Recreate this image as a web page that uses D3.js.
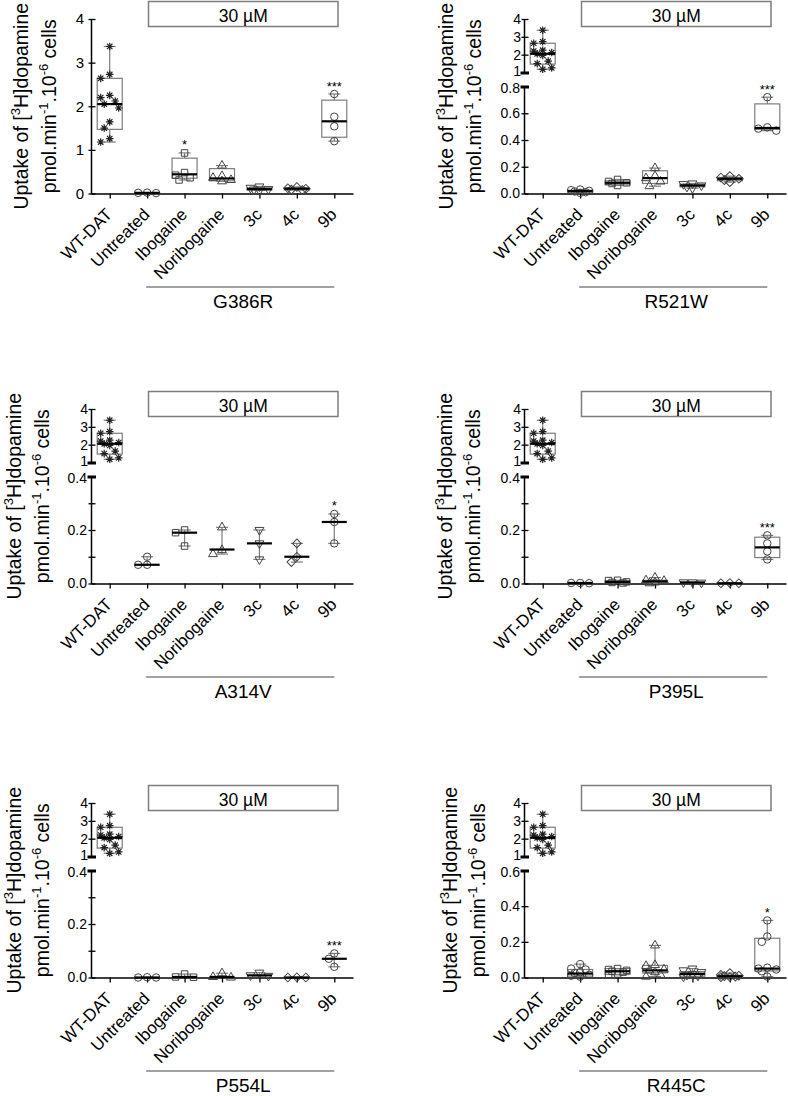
<!DOCTYPE html>
<html>
<head>
<meta charset="utf-8">
<script src="https://cdn.jsdelivr.net/npm/d3@7"></script>
<style>
  body { margin: 0; background: #fff; }
  svg { font-family: "Liberation Sans", Arial, sans-serif; }
</style>
</head>
<body>
<svg id="chart" width="788" height="1096"></svg>
<script>
"use strict";
// ---- data ----
const categories = ["WT-DAT", "Untreated", "Ibogaine", "Noribogaine", "3c", "4c", "9b"];
const mutants = ["G386R", "R521W", "A314V", "P395L", "P554L", "R445C"];
const concLabel = "30 µM";

// WT-DAT reference, same in every panel
const wtValues = [3.37, 2.73, 2.64, 2.25, 2.20, 2.12, 2.05, 1.96, 1.64, 1.50, 1.26, 1.18];
const wtStats = [1.47, 2.05, 2.64]; // q1, median, q3

// one entry per treatment (Untreated .. 9b); stats = [q1, median, q3], q1/q3 null = no box
const g386rValues = [
  [0.02, 0.015, 0.01],
  [0.93, 0.48, 0.42, 0.36, 0.31],
  [0.64, 0.40, 0.36, 0.31, 0.28],
  [0.16, 0.13, 0.10, 0.09, 0.07],
  [0.15, 0.12, 0.11, 0.09, 0.08],
  [2.28, 1.76, 1.54, 1.20]
];
const g386rStats = [[null, 0.015, null], [0.35, 0.44, 0.81], [0.29, 0.345, 0.57], [0.08, 0.10, 0.13], [0.085, 0.11, 0.13], [1.29, 1.655, 2.14]];
const g386rStars = ["", "", "*", "", "", "", "***"];

const r521wValues = [
  [0.03, 0.025, 0.02, 0.015, 0.01, 0.005],
  [0.105, 0.09, 0.08, 0.075, 0.06],
  [0.19, 0.13, 0.115, 0.09, 0.055],
  [0.075, 0.07, 0.06, 0.05, 0.04],
  [0.13, 0.12, 0.11, 0.10, 0.085],
  [0.72, 0.495, 0.485, 0.47]
];
const r521wStats = [[0.01, 0.018, 0.025], [0.065, 0.08, 0.095], [0.075, 0.115, 0.17], [0.05, 0.06, 0.07], [0.095, 0.11, 0.12], [0.48, 0.49, 0.67]];
const r521wStars = ["", "", "", "", "", "", "***"];

const a314vValues = [
  [0.10, 0.07, 0.07],
  [0.20, 0.19, 0.14],
  [0.21, 0.125, 0.11],
  [0.20, 0.15, 0.09],
  [0.15, 0.10, 0.08],
  [0.26, 0.23, 0.15]
];
const a314vStats = [[null, 0.07, null], [null, 0.19, null], [null, 0.127, null], [null, 0.15, null], [null, 0.10, null], [null, 0.23, null]];
const a314vStars = ["", "", "", "", "", "", "*"];

const p395lValues = [
  [0.002, 0.002, 0.001],
  [0.012, 0.011, 0.006, 0.004, 0.002],
  [0.022, 0.012, 0.01, 0.004, 0.001],
  [0.004, 0.004, 0.003],
  [0.002, 0.001, 0.001],
  [0.18, 0.15, 0.12, 0.09]
];
const p395lStats = [[null, 0.002, null], [0.003, 0.006, 0.011], [0.003, 0.008, 0.012], [null, 0.004, null], [null, 0.001, null], [0.097, 0.135, 0.173]];
const p395lStars = ["", "", "", "", "", "", "***"];

const p554lValues = [
  [0.001, 0.0, 0.0],
  [0.013, 0.002, 0.001],
  [0.016, 0.002, 0.0],
  [0.018, 0.008, 0.006],
  [0.001, 0.0, 0.0],
  [0.09, 0.07, 0.04]
];
const p554lStats = [[null, 0.0, null], [null, 0.002, null], [null, 0.002, null], [null, 0.008, null], [null, 0.0, null], [null, 0.07, null]];
const p554lStars = ["", "", "", "", "", "", "***"];

const r445cValues = [
  [0.075, 0.05, 0.045, 0.03, 0.025, 0.015, 0.01, 0.005],
  [0.05, 0.045, 0.04, 0.035, 0.03, 0.02, 0.015],
  [0.18, 0.07, 0.065, 0.045, 0.04, 0.03, 0.015, 0.005],
  [0.05, 0.04, 0.03, 0.02, 0.015, 0.01, 0.005],
  [0.025, 0.015, 0.01, 0.008, 0.005, 0.003, 0.002],
  [0.32, 0.23, 0.20, 0.055, 0.05, 0.045, 0.035, 0.005]
];
const r445cStats = [[0.008, 0.022, 0.045], [0.017, 0.035, 0.05], [0.026, 0.04, 0.068], [0.007, 0.02, 0.033], [0.003, 0.007, 0.012], [0.037, 0.05, 0.22]];
const r445cStars = ["", "", "", "", "", "", "*"];

// axis ticks
const fullTicks = [0, 1, 2, 3, 4];          // G386R, unbroken axis
const upperTicks = [1, 2, 3, 4];            // upper segment of broken axes
const ticks08 = [0, 0.2, 0.4, 0.6, 0.8];
const ticks04 = [0, 0.1, 0.2, 0.3, 0.4];
const labels04 = [0, 0.2, 0.4];
const ticks06 = [0, 0.2, 0.4, 0.6];

const panels = [
  { name: mutants[0], values: g386rValues, stats: g386rStats, stars: g386rStars, lowerMax: null, ticks: fullTicks, labels: fullTicks },
  { name: mutants[1], values: r521wValues, stats: r521wStats, stars: r521wStars, lowerMax: 0.8, ticks: ticks08, labels: ticks08 },
  { name: mutants[2], values: a314vValues, stats: a314vStats, stars: a314vStars, lowerMax: 0.4, ticks: ticks04, labels: labels04 },
  { name: mutants[3], values: p395lValues, stats: p395lStats, stars: p395lStars, lowerMax: 0.4, ticks: ticks04, labels: labels04 },
  { name: mutants[4], values: p554lValues, stats: p554lStats, stars: p554lStars, lowerMax: 0.4, ticks: ticks04, labels: labels04 },
  { name: mutants[5], values: r445cValues, stats: r445cStats, stars: r445cStars, lowerMax: 0.6, ticks: ticks06, labels: ticks06 }
];

// ---- layout ----
const colAxisX = [91, 524];
const rowTop = [19, 409, 803];
const plotH = 174.5;
const layout = [
  { col: 0, row: 0, titleX: -63, tickPad: 7 },
  { col: 1, row: 0, titleX: -71, tickPad: 4 },
  { col: 0, row: 1, titleX: -70, tickPad: 4 },
  { col: 1, row: 1, titleX: -72, tickPad: 4 },
  { col: 0, row: 2, titleX: -70, tickPad: 4 },
  { col: 1, row: 2, titleX: -67, tickPad: 4 }
];
const grey = "#7d7d7d";

// 8-armed asterisk used for WT-DAT
const asterisk = {
  draw(context, size) {
    const r = Math.sqrt(size) / 2, d = r * Math.SQRT1_2;
    context.moveTo(-r, 0); context.lineTo(r, 0);
    context.moveTo(0, -r); context.lineTo(0, r);
    context.moveTo(-d, -d); context.lineTo(d, d);
    context.moveTo(-d, d); context.lineTo(d, -d);
  }
};
const markers = [
  { type: asterisk, size: 58, rotate: 0 },
  { type: d3.symbolCircle, size: 44, rotate: 0 },
  { type: d3.symbolSquare, size: 42, rotate: 0 },
  { type: d3.symbolTriangle, size: 34, rotate: 0 },
  { type: d3.symbolTriangle, size: 34, rotate: 180 },
  { type: d3.symbolSquare, size: 38, rotate: 45 },
  { type: d3.symbolCircle, size: 44, rotate: 0 }
];

const svg = d3.select("#chart");

// spread points sideways when they would overlap
function swarm(vals, y, cx) {
  const placed = [];
  const offs = [0, -5.5, 5.5, -9, 9];
  return vals.map(v => {
    const py = y(v);
    let best = 0, bestD = -1;
    for (const o of offs) {
      const d = placed.length ? d3.min(placed, q => Math.hypot(q[0] - (cx + o), q[1] - py)) : Infinity;
      if (d >= 7.5) { best = o; break; }
      if (d > bestD) { bestD = d; best = o; }
    }
    const pt = [cx + best, py];
    placed.push(pt);
    return pt;
  });
}

// breakVal: value whose tick is drawn heavy at the axis break; nudge moves its label
function yAxis(g, scale, ticks, labels, fmt, pad, ax, breakVal, nudge, fs) {
  const a = g.append("g")
    .attr("transform", `translate(${ax},0)`)
    .call(d3.axisLeft(scale).tickValues(ticks)
      .tickFormat(v => labels.includes(v) ? fmt(v) : "")
      .tickSizeInner(-4.5).tickSizeOuter(0).tickPadding(pad));
  a.attr("font-size", fs).attr("font-family", null);
  a.select(".domain").attr("stroke", "#000").attr("stroke-width", 1.5);
  a.selectAll(".tick line").attr("x1", -2.5).attr("stroke-width", 1.3);
  a.selectAll(".tick text").attr("fill", "#000");
  if (breakVal !== null) {
    const bt = a.selectAll(".tick").filter(d => d === breakVal);
    bt.select("line").attr("x1", -3.5).attr("x2", 5).attr("stroke-width", 3);
    bt.select("text").attr("y", nudge);
  }
}

function drawPanel(p, lay) {
  const ax = colAxisX[lay.col], top = rowTop[lay.row], base = top + plotH;
  const g = svg.append("g");
  const x = d3.scalePoint().domain(categories).range([ax, ax + 262]).padding(0.5);
  let yUp, yLow;
  if (p.lowerMax === null) {
    yUp = yLow = d3.scaleLinear().domain([0, 4]).range([base, top]);
    yAxis(g, yUp, p.ticks, p.labels, d3.format("d"), lay.tickPad, ax, null, 0, 15);
  } else {
    yUp = d3.scaleLinear().domain([1, 4]).range([top + 53.5, top]);
    yLow = d3.scaleLinear().domain([0, p.lowerMax]).range([base, top + 67.5]);
    yAxis(g, yUp, upperTicks, upperTicks, d3.format("d"), lay.tickPad - 1, ax, 1, -1.5, 14);
    yAxis(g, yLow, p.ticks, p.labels, d3.format(".1f"), lay.tickPad, ax, p.lowerMax, 1.5, 14);
  }

  // x axis
  const xa = g.append("g")
    .attr("transform", `translate(0,${base})`)
    .call(d3.axisBottom(x).tickSizeInner(5).tickSizeOuter(0));
  xa.attr("font-size", 17).attr("font-family", null);
  xa.select(".domain").attr("stroke", "#000").attr("stroke-width", 1.5);
  xa.selectAll(".tick line").attr("stroke-width", 1.3);
  xa.selectAll(".tick text")
    .attr("y", 0).attr("dy", 0).attr("fill", "#000")
    .attr("transform", "translate(3,22) rotate(-45)")
    .style("text-anchor", "end");

  // y title (two lines)
  const yc = (top + base) / 2;
  const t1 = g.append("text")
    .attr("transform", `translate(${ax + lay.titleX},${yc}) rotate(-90)`)
    .attr("text-anchor", "middle").attr("font-size", 19.5);
  t1.append("tspan").text("Uptake of [");
  t1.append("tspan").attr("font-size", 13).attr("dy", -8).text("3");
  t1.append("tspan").attr("dy", 8).text("H]dopamine");
  const t2 = g.append("text")
    .attr("transform", `translate(${ax + lay.titleX + 27.5},${yc}) rotate(-90)`)
    .attr("text-anchor", "middle").attr("font-size", 19.5);
  t2.append("tspan").text("pmol.min");
  t2.append("tspan").attr("font-size", 13).attr("dy", -8).text("-1");
  t2.append("tspan").attr("dy", 8).text(".10");
  t2.append("tspan").attr("font-size", 13).attr("dy", -8).text("-6");
  t2.append("tspan").attr("dy", 8).text("\u00a0cells");

  // concentration label box
  g.append("rect")
    .attr("x", ax + 57.5).attr("y", top - 17.5).attr("width", 189.5).attr("height", 25)
    .attr("fill", "none").attr("stroke", grey).attr("stroke-width", 1.5);
  g.append("text")
    .attr("x", ax + 57.5 + 189.5 / 2).attr("y", top + 2.5)
    .attr("text-anchor", "middle").attr("font-size", 17.5).text(concLabel);

  // mutant bracket
  const x0 = x(categories[1]) - 1, x1 = x(categories[6]);
  g.append("line")
    .attr("x1", x0).attr("x2", x1).attr("y1", base + 93.5).attr("y2", base + 93.5)
    .attr("stroke", "#444").attr("stroke-width", 1);
  g.append("text")
    .attr("x", (x0 + x1) / 2 + 3).attr("y", base + 114.5)
    .attr("text-anchor", "middle").attr("font-size", 19).text(p.name);

  // groups
  categories.forEach((c, k) => {
    const vals = k === 0 ? wtValues : p.values[k - 1];
    const st = k === 0 ? wtStats : p.stats[k - 1];
    const y = k === 0 ? yUp : yLow;
    const cx = x(c);
    const vMax = d3.max(vals), vMin = d3.min(vals);
    const hasBox = st[0] !== null;
    const gg = g.append("g");

    if (hasBox) {
      gg.append("rect")
        .attr("x", cx - 12.5).attr("width", 25)
        .attr("y", y(st[2])).attr("height", y(st[0]) - y(st[2]))
        .attr("fill", "none").attr("stroke", grey).attr("stroke-width", 1.2);
    }
    const segs = hasBox ? [[st[2], vMax], [st[0], vMin]] : [[vMin, vMax]];
    segs.forEach(s => {
      gg.append("line").attr("x1", cx).attr("x2", cx)
        .attr("y1", y(s[0])).attr("y2", y(s[1]))
        .attr("stroke", grey).attr("stroke-width", 1.2);
    });
    [vMin, vMax].forEach(v => {
      gg.append("line").attr("x1", cx - 6).attr("x2", cx + 6)
        .attr("y1", y(v)).attr("y2", y(v))
        .attr("stroke", grey).attr("stroke-width", 1.2);
    });

    const m = markers[k];
    const sym = d3.symbol().type(m.type).size(m.size);
    gg.selectAll("path.pt").data(swarm(vals, y, cx)).join("path")
      .attr("class", "pt")
      .attr("d", sym)
      .attr("transform", d => `translate(${d[0]},${d[1]}) rotate(${m.rotate})`)
      .attr("fill", "none")
      .attr("stroke", k === 0 ? "#222" : "#444")
      .attr("stroke-width", k === 0 ? 1.2 : 1);

    gg.append("line").attr("x1", cx - 12.5).attr("x2", cx + 12.5)
      .attr("y1", y(st[1])).attr("y2", y(st[1]))
      .attr("stroke", "#000").attr("stroke-width", 2.2);

    const star = p.stars[k];
    if (star) {
      gg.append("text").attr("x", cx).attr("y", y(vMax) - 3.5)
        .attr("text-anchor", "middle").attr("font-size", 13).text(star);
    }
  });
}

panels.forEach((p, i) => drawPanel(p, layout[i]));
</script>
</body>
</html>
